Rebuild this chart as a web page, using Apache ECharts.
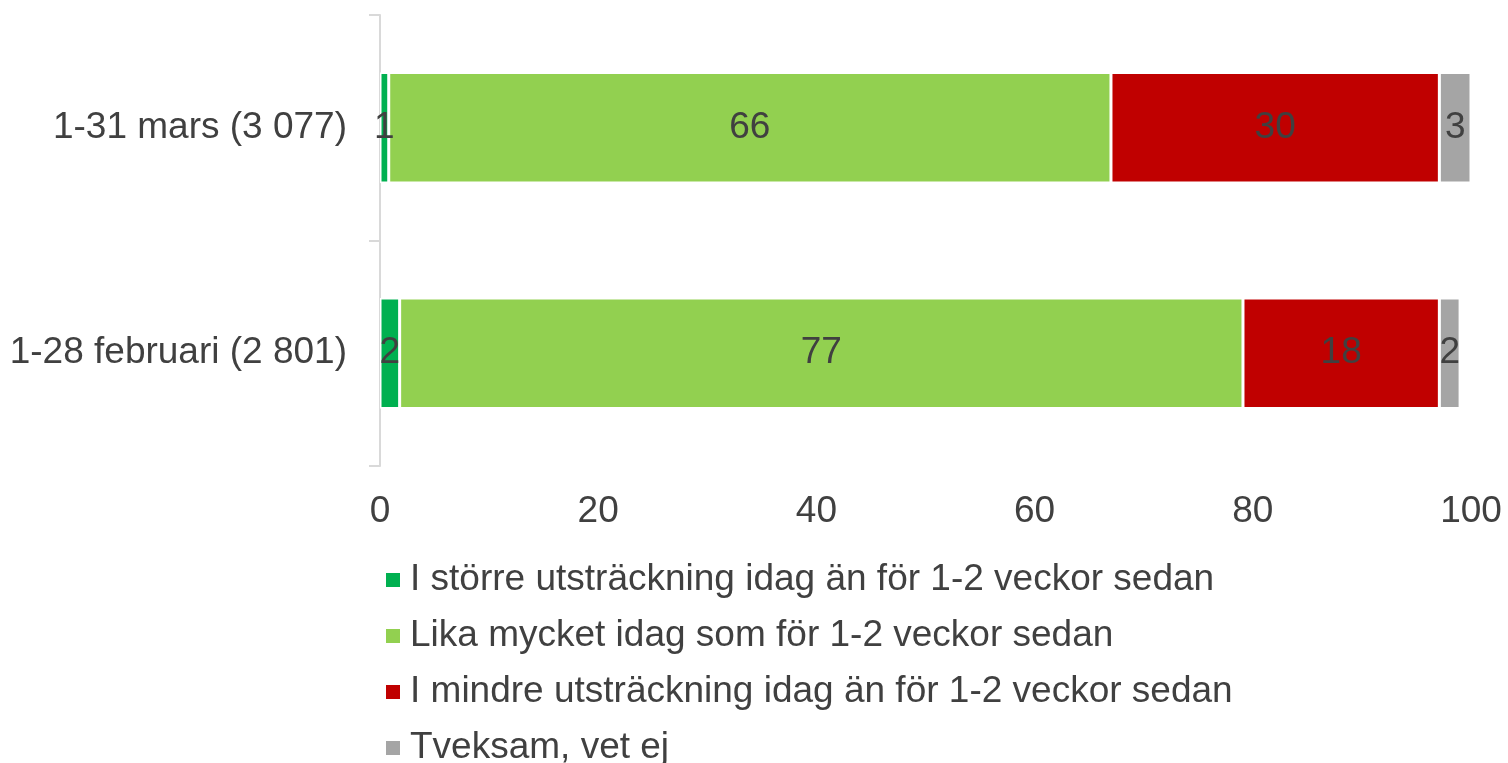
<!DOCTYPE html>
<html>
<head>
<meta charset="utf-8">
<script src="https://cdn.jsdelivr.net/npm/echarts@6/dist/echarts.min.js"></script>
<style>
  html, body { margin: 0; padding: 0; background: #fff; }
  #chart { width: 1508px; height: 763px; }
</style>
</head>
<body>
<div id="chart"></div>
<script>
// data
var categories = ['1-31 mars (3 077)', '1-28 februari (2 801)'];
var seriesNames = [
  'I större utsträckning idag än för 1-2 veckor sedan',
  'Lika mycket idag som för 1-2 veckor sedan',
  'I mindre utsträckning idag än för 1-2 veckor sedan',
  'Tveksam, vet ej'
];
var storre = [0.8, 1.8];
var lika = [66.2, 77.3];
var mindre = [30.1, 18.0];
var tveksam = [2.9, 1.9];
var xTicks = [0, 20, 40, 60, 80, 100];
var colors = ['#00B050', '#92D050', '#C00000', '#A5A5A5'];

var myChart = echarts.init(document.getElementById('chart'));
var font = 'Liberation Sans, Arial, sans-serif';
var values = [storre, lika, mindre, tveksam];

var series = seriesNames.map(function (name, i) {
  return {
    name: name,
    type: 'bar',
    stack: 'total',
    barWidth: '49%',
    data: values[i],
    itemStyle: { color: colors[i], borderColor: '#fff', borderWidth: 1.5 },
    label: {
      show: true,
      position: 'inside',
      color: '#404040',
      fontSize: 37,
      fontFamily: font,
      formatter: function (p) { return Math.round(p.value); }
    }
  };
});

var option = {
  animation: false,
  color: colors,
  grid: { left: 380, right: 37, top: 15, bottom: 297 },
  legend: {
    orient: 'vertical',
    left: 384,
    top: 560,
    height: 260,
    padding: 0,
    itemWidth: 16,
    itemHeight: 16,
    itemGap: 16,
    icon: 'rect',
    data: seriesNames,
    textStyle: { color: '#404040', fontSize: 37, fontFamily: font, lineHeight: 40, padding: [0, 0, 0, 4] }
  },
  xAxis: {
    type: 'value',
    min: xTicks[0],
    max: xTicks[xTicks.length - 1],
    interval: 20,
    axisLine: { show: false },
    axisTick: { show: false },
    splitLine: { show: false },
    axisLabel: { color: '#404040', fontSize: 37, fontFamily: font, margin: 27 }
  },
  yAxis: {
    type: 'category',
    inverse: true,
    data: categories,
    axisLine: { show: true, lineStyle: { color: '#D9D9D9', width: 2 } },
    axisTick: { show: true, length: 11, lineStyle: { color: '#D9D9D9', width: 2 } },
    axisLabel: { color: '#404040', fontSize: 37, fontFamily: font, margin: 33 }
  },
  series: series
};
myChart.setOption(option);
</script>
</body>
</html>
